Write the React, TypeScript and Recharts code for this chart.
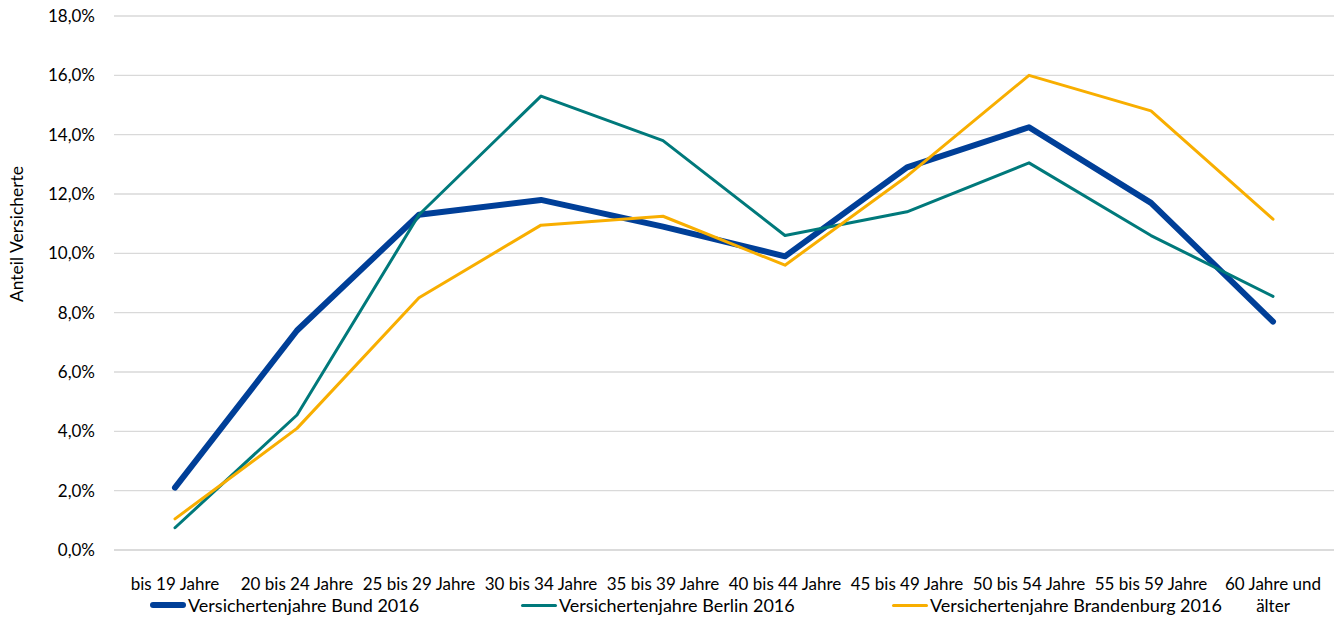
import React from "react";
import { LineChart, Line, XAxis, YAxis, CartesianGrid, Legend } from "recharts";

const categories = [
  "bis 19 Jahre",
  "20 bis 24 Jahre",
  "25 bis 29 Jahre",
  "30 bis 34 Jahre",
  "35 bis 39 Jahre",
  "40 bis 44 Jahre",
  "45 bis 49 Jahre",
  "50 bis 54 Jahre",
  "55 bis 59 Jahre",
  "60 Jahre und älter",
];

// Anteil in Prozent
const bund = [2.1, 7.4, 11.3, 11.8, 10.9, 9.9, 12.9, 14.25, 11.7, 7.7];
const berlin = [0.75, 4.55, 11.3, 15.3, 13.8, 10.6, 11.4, 13.05, 10.6, 8.55];
const brandenburg = [1.05, 4.1, 8.5, 10.95, 11.25, 9.6, 12.6, 16.0, 14.8, 11.15];

const yTicks = [0, 2, 4, 6, 8, 10, 12, 14, 16, 18];

const seriesNames = [
  "Versichertenjahre Bund 2016",
  "Versichertenjahre Berlin 2016",
  "Versichertenjahre Brandenburg 2016",
];

const data = categories.map((c, i) => ({
  name: c,
  bund: bund[i],
  berlin: berlin[i],
  brandenburg: brandenburg[i],
}));

const FONT = "Lato, 'Open Sans', sans-serif";

const formatPct = (v: number) => `${v.toFixed(1).replace(".", ",")}%`;

function CategoryTick(props: any) {
  const { x, y, payload } = props;
  const label: string = payload.value;
  let lines = [label];
  if (label.length > 15) {
    const cut = label.lastIndexOf(" ");
    lines = [label.slice(0, cut), label.slice(cut + 1)];
  }
  return (
    <text x={x} y={y} textAnchor="middle" fill="#000" fontSize={17} fontFamily={FONT}>
      {lines.map((l, i) => (
        <tspan key={i} x={x} dy={i === 0 ? 32 : 22}>
          {l}
        </tspan>
      ))}
    </text>
  );
}

function AxisTitle(props: any) {
  const { viewBox } = props;
  const cx = viewBox.x + 16;
  const cy = 234;
  return (
    <text
      x={cx}
      y={cy}
      transform={`rotate(-90, ${cx}, ${cy})`}
      textAnchor="middle"
      dominantBaseline="central"
      fontSize={17.5}
      fill="#000"
      fontFamily={FONT}
    >
      Anteil Versicherte
    </text>
  );
}

const legendItems = [
  { name: seriesNames[0], color: "#003f98", width: 6 },
  { name: seriesNames[1], color: "#00797b", width: 3 },
  { name: seriesNames[2], color: "#f8ae00", width: 3 },
];

function LegendContent() {
  return (
    <div style={{ display: "flex", fontFamily: FONT, fontSize: 18, color: "#000" }}>
      {legendItems.map((it) => (
        <div key={it.name} style={{ width: 371, display: "flex", alignItems: "center" }}>
          <span
            style={{
              display: "inline-block",
              width: 36,
              height: it.width,
              borderRadius: it.width / 2,
              background: it.color,
              marginRight: 2,
            }}
          />
          <span>{it.name}</span>
        </div>
      ))}
    </div>
  );
}

export default function App() {
  return (
    <div style={{ position: "absolute", left: 0, top: 0, background: "#fff" }}>
      <LineChart
        width={1338}
        height={618}
        data={data}
        margin={{ top: 16, right: 4, left: 0, bottom: 0 }}
      >
        <CartesianGrid vertical={false} stroke="#d9d9d9" strokeWidth={1.3} />
        <XAxis
          dataKey="name"
          interval={0}
          padding={{ left: 61, right: 61 }}
          axisLine={{ stroke: "#d9d9d9", strokeWidth: 1.3 }}
          tickLine={false}
          tick={<CategoryTick />}
          height={44}
        />
        <YAxis
          width={114}
          domain={[0, 18]}
          ticks={yTicks}
          tickFormatter={formatPct}
          axisLine={false}
          tickLine={false}
          tickSize={0}
          tickMargin={19}
          tick={{ fontSize: 17, fill: "#000", fontFamily: FONT }}
          label={<AxisTitle />}
        />
        <Legend
          verticalAlign="bottom"
          content={<LegendContent />}
          wrapperStyle={{ left: 150, bottom: 0, height: 24, width: 1188 }}
        />
        <Line
          type="linear"
          dataKey="bund"
          name={seriesNames[0]}
          stroke="#003f98"
          strokeWidth={6}
          strokeLinecap="round"
          strokeLinejoin="round"
          dot={false}
          isAnimationActive={false}
        />
        <Line
          type="linear"
          dataKey="berlin"
          name={seriesNames[1]}
          stroke="#00797b"
          strokeWidth={3}
          strokeLinecap="round"
          strokeLinejoin="round"
          dot={false}
          isAnimationActive={false}
        />
        <Line
          type="linear"
          dataKey="brandenburg"
          name={seriesNames[2]}
          stroke="#f8ae00"
          strokeWidth={3}
          strokeLinecap="round"
          strokeLinejoin="round"
          dot={false}
          isAnimationActive={false}
        />
      </LineChart>
    </div>
  );
}
